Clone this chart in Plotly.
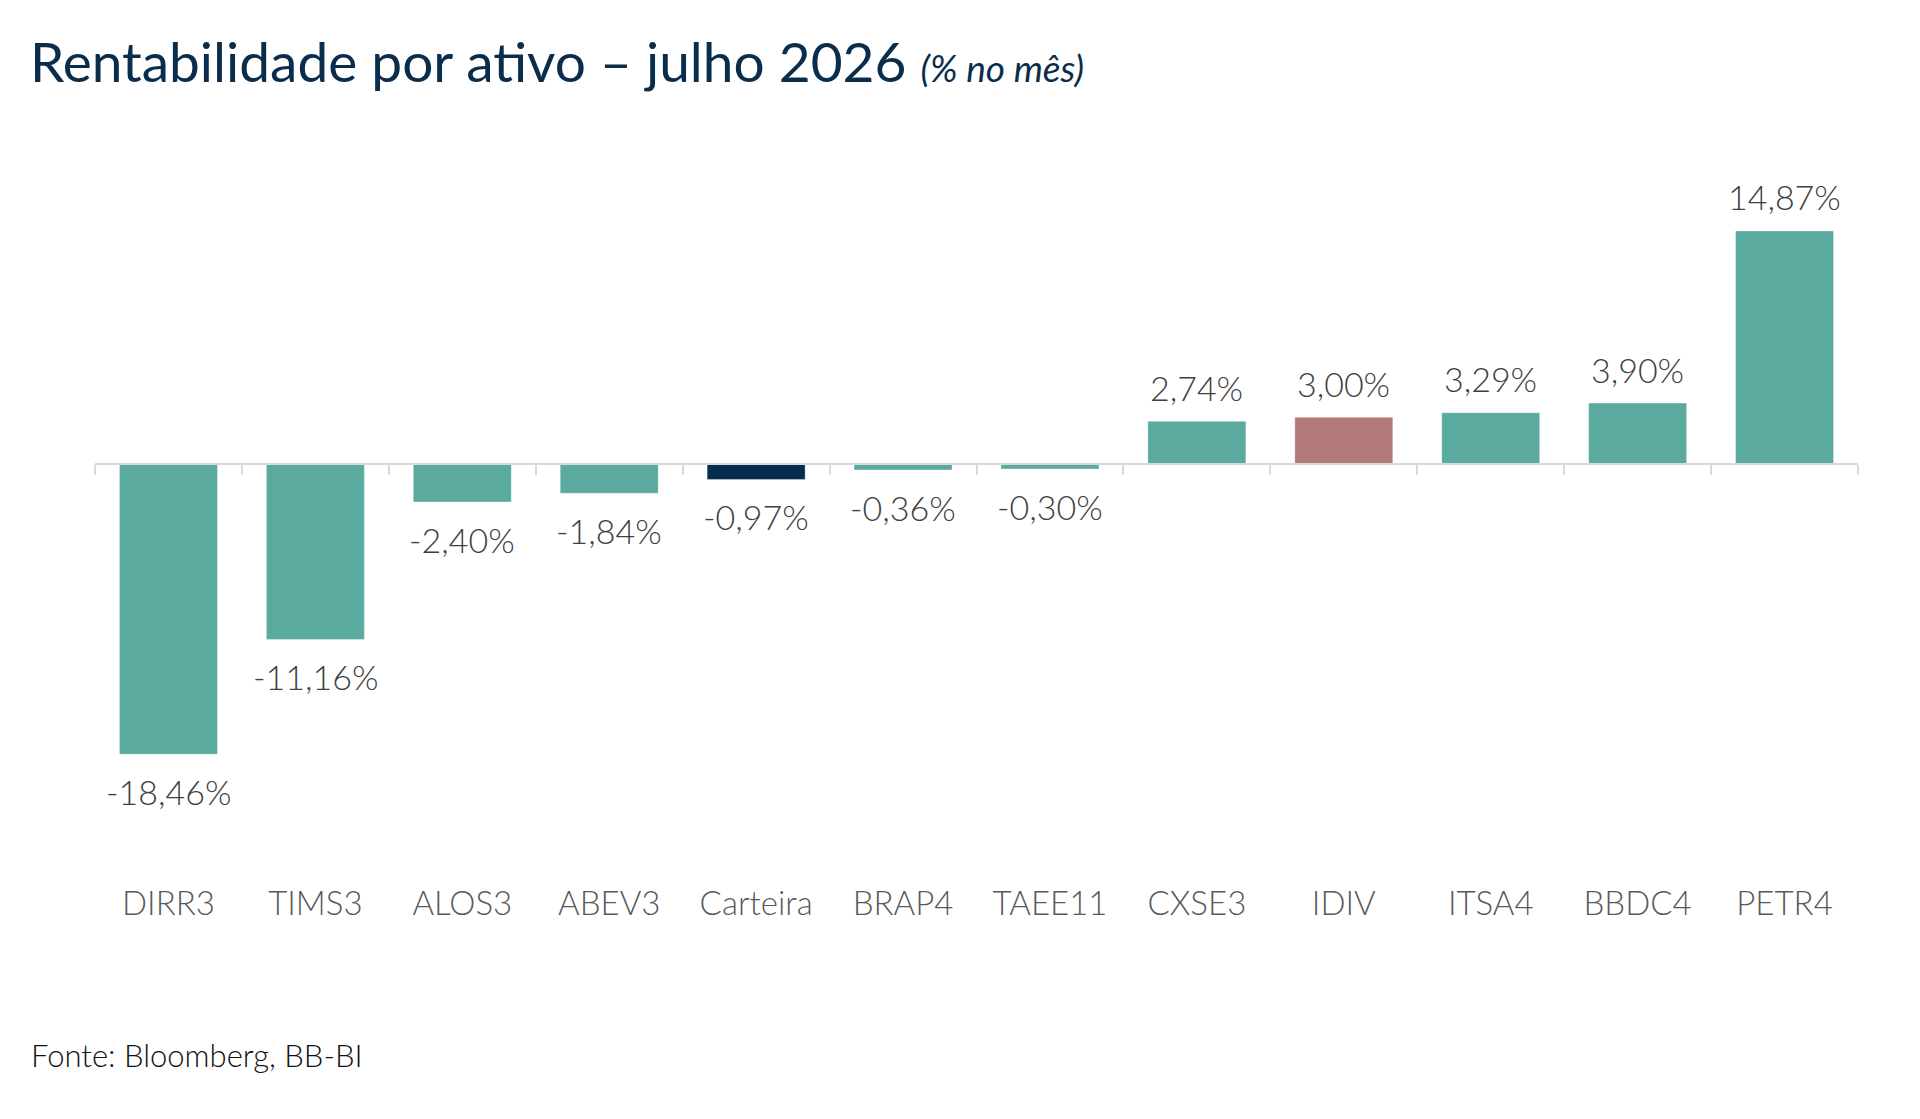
import plotly.graph_objects as go

# dados do gráfico (% no mês, julho 2026)
ativos = ["DIRR3", "TIMS3", "ALOS3", "ABEV3", "Carteira", "BRAP4",
          "TAEE11", "CXSE3", "IDIV", "ITSA4", "BBDC4", "PETR4"]
rentabilidade = [-18.46, -11.16, -2.40, -1.84, -0.97, -0.36,
                 -0.30, 2.74, 3.00, 3.29, 3.90, 14.87]
destaques = {"Carteira": "#062D4F", "IDIV": "#B27B7A"}
cor_padrao = "#5BAA9F"

W, H = 1920, 1119
m_l, m_r, m_t, m_b = 87, 70, 143, 246
y_range = [-26.54, 19.96]
plot_w = W - m_l - m_r
plot_h = H - m_t - m_b
zero_pos = (0 - y_range[0]) / (y_range[1] - y_range[0])

cores = [destaques.get(a, cor_padrao) for a in ativos]
rotulos = [f"{v:.2f}".replace(".", ",") + "%" for v in rentabilidade]

fig = go.Figure()
fig.add_trace(go.Bar(
    x=ativos, y=rentabilidade, xaxis="x2", yaxis="y",
    marker=dict(color=cores, line=dict(color="rgba(255,255,255,0.35)", width=1)),
    hoverinfo="x+y",
))
# traço invisível só para o eixo de rótulos inferior
fig.add_trace(go.Scatter(
    x=ativos, y=rentabilidade, xaxis="x", yaxis="y",
    mode="markers", marker=dict(opacity=0), hoverinfo="skip",
))

for a, v, t in zip(ativos, rentabilidade, rotulos):
    fig.add_annotation(
        x=a, y=v, xref="x2", yref="y", text=t, showarrow=False,
        yshift=34 if v >= 0 else -37, yanchor="middle",
        font=dict(family="Lato", size=34, color="#404040", weight=300),
    )

fig.add_annotation(
    text="Fonte: Bloomberg, BB-BI", showarrow=False,
    xref="paper", yref="paper", xanchor="left", yanchor="middle",
    x=(21 - m_l) / plot_w, y=((H - 1047) - m_b) / plot_h,
    font=dict(family="Lato", size=31, color="#111111", weight=300),
)

fig.update_layout(
    width=W, height=H,
    margin=dict(l=m_l, r=m_r, t=m_t, b=m_b),
    paper_bgcolor="white", plot_bgcolor="white",
    showlegend=False, bargap=0.333,
    title=dict(
        text="Rentabilidade por ativo – julho 2026 "
             "<i><span style='font-size:37px'>(% no mês)</span></i>",
        xref="container", yref="container", x=22 / W, y=1 - 55 / H,
        xanchor="left", yanchor="middle",
        font=dict(family="Lato", size=55, color="#0B2D4C"),
    ),
    xaxis=dict(
        type="category", categoryorder="array", categoryarray=ativos,
        range=[-0.5, len(ativos) - 0.5],
        showline=False, showgrid=False, zeroline=False, ticks="",
        tickfont=dict(family="Lato", size=33, color="#595959", weight=300),
        fixedrange=True,
    ),
    xaxis2=dict(
        type="category", categoryorder="array", categoryarray=ativos,
        range=[-0.5, len(ativos) - 0.5],
        overlaying="x", anchor="free", position=zero_pos, side="bottom",
        showline=True, linecolor="#D9D9D9", linewidth=2,
        ticks="outside", tickson="boundaries", ticklen=10, tickcolor="#D9D9D9", tickwidth=2,
        showticklabels=False, showgrid=False, zeroline=False,
    ),
    yaxis=dict(range=y_range, visible=False, showgrid=False, zeroline=False),
)

fig.write_html("out.html")
